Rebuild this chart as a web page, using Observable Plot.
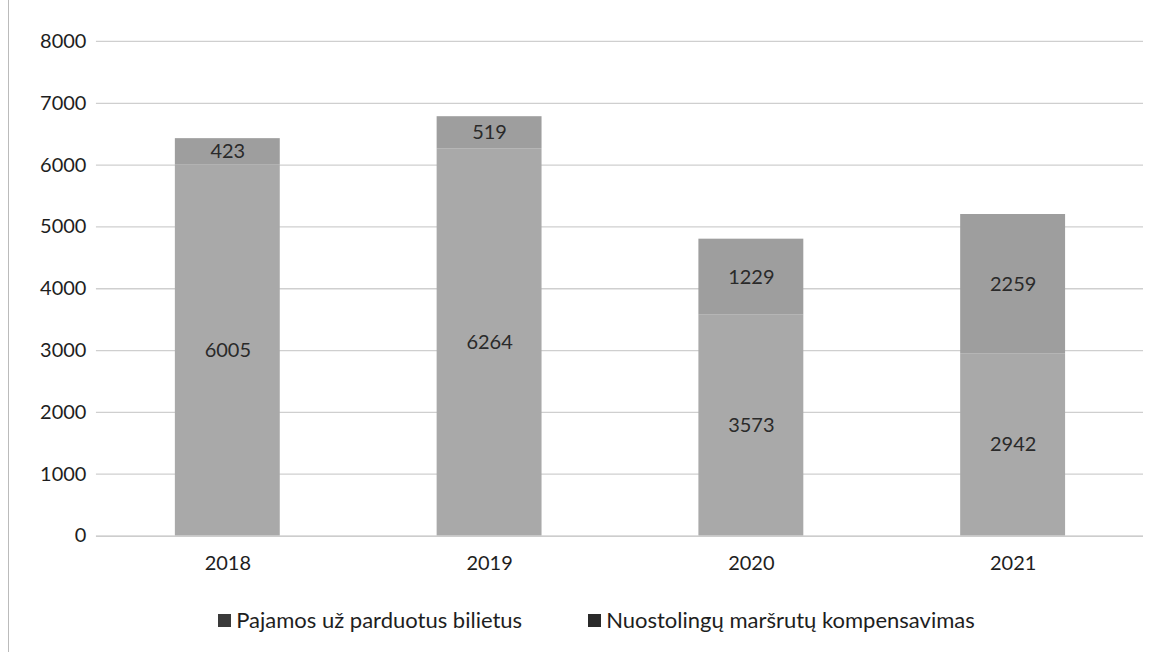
<!DOCTYPE html>
<html>
<head>
<meta charset="utf-8">
<script src="https://cdn.jsdelivr.net/npm/d3@7"></script>
<script src="https://cdn.jsdelivr.net/npm/@observablehq/plot@0.6"></script>
<style>
  html, body { margin: 0; padding: 0; background: #fff; }
  #wrap { position: relative; height: 652px; border-left: 1px solid #bbb; box-sizing: border-box; margin-left: 8px; width: 1151px; }
  #legend { position: absolute; top: 606px; left: 12px; width: 1151px; display: flex; justify-content: center; gap: 66px; font-family: Lato, "Open Sans", sans-serif; font-size: 22px; color: #1e1e1e; }
  #legend span.sw { display: inline-block; width: 13px; height: 13px; margin-right: 5px; vertical-align: 1px; }
</style>
</head>
<body>
<div id="wrap">
  <div id="chart"></div>
  <div id="legend"></div>
</div>
<script>
const years = ["2018", "2019", "2020", "2021"];
const series = ["Pajamos už parduotus bilietus", "Nuostolingų maršrutų kompensavimas"];
const tickets = [6005, 6264, 3573, 2942];
const compensation = [423, 519, 1229, 2259];
const yTicks = [0, 1000, 2000, 3000, 4000, 5000, 6000, 7000, 8000];
const colors = ["#a9a9a9", "#9e9e9e"];
const legendSwatch = ["#3a3a3a", "#2a2a2a"];

const data = [];
years.forEach((y, i) => {
  data.push({year: y, series: series[0], value: tickets[i]});
  data.push({year: y, series: series[1], value: compensation[i]});
});

const chart = Plot.plot({
  width: 1151,
  height: 590,
  marginLeft: 87,
  marginRight: 16,
  marginTop: 41,
  marginBottom: 54,
  style: {fontFamily: "Lato, 'Open Sans', sans-serif", fontSize: "20px", color: "#1e1e1e", background: "#fff"},
  x: {domain: years, paddingInner: 0.6, paddingOuter: 0.3, label: null},
  y: {domain: [0, 8000], ticks: yTicks, label: null},
  color: {domain: series, range: colors},
  marks: [
    Plot.ruleY(yTicks.filter(d => d > 0), {stroke: "#cfcfcf", strokeWidth: 1.3}),
    Plot.barY(data, {x: "year", y: "value", fill: "series", z: "series", order: series}),
    Plot.text(data, Plot.stackY({x: "year", y: "value", z: "series", order: series, text: d => String(d.value), fill: "#2a2a2a", fontSize: 20})),
    Plot.ruleY([0], {stroke: "#bdbdbd", strokeWidth: 1.3}),
    Plot.axisY({ticks: yTicks, tickFormat: d => String(d), tickSize: 0, tickPadding: 10, fontSize: 20, fill: "#1e1e1e", label: null}),
    Plot.axisX({tickSize: 0, tickPadding: 20, fontSize: 20, fill: "#1e1e1e", label: null})
  ]
});
document.getElementById("chart").appendChild(chart);

const legend = document.getElementById("legend");
series.forEach((s, i) => {
  const item = document.createElement("div");
  const sw = document.createElement("span");
  sw.className = "sw";
  sw.style.background = legendSwatch[i];
  item.appendChild(sw);
  item.appendChild(document.createTextNode(s));
  legend.appendChild(item);
});
</script>
</body>
</html>
